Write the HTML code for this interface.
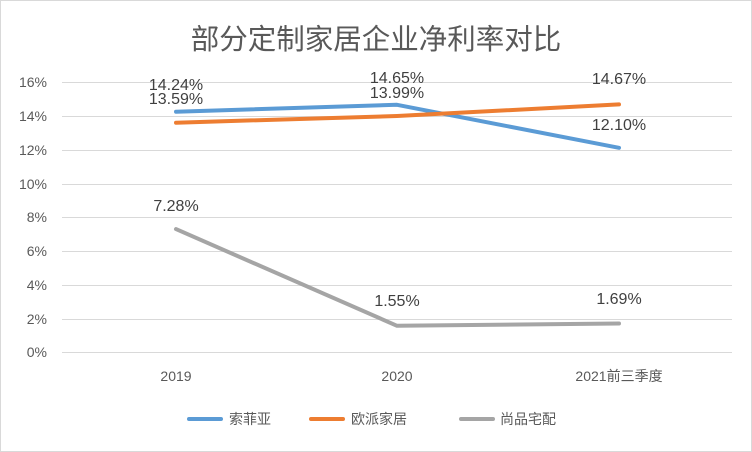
<!DOCTYPE html>
<html><head><meta charset="utf-8"><style>
html,body{margin:0;padding:0;background:#fff;}
svg{display:block;}
text{font-family:"Liberation Sans","Noto Sans CJK SC",sans-serif;fill:#595959;}
</style></head><body>
<svg width="752" height="452" viewBox="0 0 752 452" xmlns="http://www.w3.org/2000/svg">
<rect x="0.5" y="0.5" width="751" height="451" fill="#fff" stroke="#d9d9d9"/>
<text x="376" y="49" font-size="28.5" text-anchor="middle">部分定制家居企业净利率对比</text>
<g stroke="#d9d9d9" stroke-width="1">
<line x1="62" y1="82.5" x2="732" y2="82.5"/>
<line x1="62" y1="116.5" x2="732" y2="116.5"/>
<line x1="62" y1="150.5" x2="732" y2="150.5"/>
<line x1="62" y1="184.5" x2="732" y2="184.5"/>
<line x1="62" y1="217.5" x2="732" y2="217.5"/>
<line x1="62" y1="251.5" x2="732" y2="251.5"/>
<line x1="62" y1="285.5" x2="732" y2="285.5"/>
<line x1="62" y1="319.5" x2="732" y2="319.5"/>
<line x1="62" y1="352.5" x2="732" y2="352.5"/>
</g>
<g font-size="14" text-anchor="end">
<text x="47" y="87">16%</text><text x="47" y="121">14%</text><text x="47" y="155">12%</text>
<text x="47" y="189">10%</text><text x="47" y="222">8%</text><text x="47" y="256">6%</text>
<text x="47" y="290">4%</text><text x="47" y="324">2%</text><text x="47" y="357">0%</text>
</g>
<g font-size="14" text-anchor="middle">
<text x="176" y="381">2019</text><text x="397" y="381">2020</text><text x="619" y="381">2021前三季度</text>
</g>
<g fill="none" stroke-width="4" stroke-linecap="round" stroke-linejoin="round">
<polyline stroke="#5b9bd5" points="176,111.7 397,104.8 619,147.8"/>
<polyline stroke="#ed7d31" points="176,122.7 397,116 619,104.4"/>
<polyline stroke="#a5a5a5" points="176,229.1 397,325.8 619,323.5"/>
</g>
<g font-size="16" text-anchor="middle">
<text x="176" y="90" style="fill:#404040">14.24%</text>
<text x="176" y="104" style="fill:#404040">13.59%</text>
<text x="397" y="83" style="fill:#404040">14.65%</text>
<text x="397" y="98" style="fill:#404040">13.99%</text>
<text x="619" y="84" style="fill:#404040">14.67%</text>
<text x="619" y="130" style="fill:#404040">12.10%</text>
<text x="176" y="211" style="fill:#404040">7.28%</text>
<text x="397" y="306" style="fill:#404040">1.55%</text>
<text x="619" y="304" style="fill:#404040">1.69%</text>
</g>
<g stroke-width="4" stroke-linecap="round">
<line x1="189" y1="419" x2="221" y2="419" stroke="#5b9bd5"/>
<line x1="311" y1="419" x2="343" y2="419" stroke="#ed7d31"/>
<line x1="461" y1="419" x2="493" y2="419" stroke="#a5a5a5"/>
</g>
<g font-size="14">
<text x="229" y="424">索菲亚</text><text x="351" y="424">欧派家居</text><text x="500" y="424">尚品宅配</text>
</g>
</svg>
</body></html>
